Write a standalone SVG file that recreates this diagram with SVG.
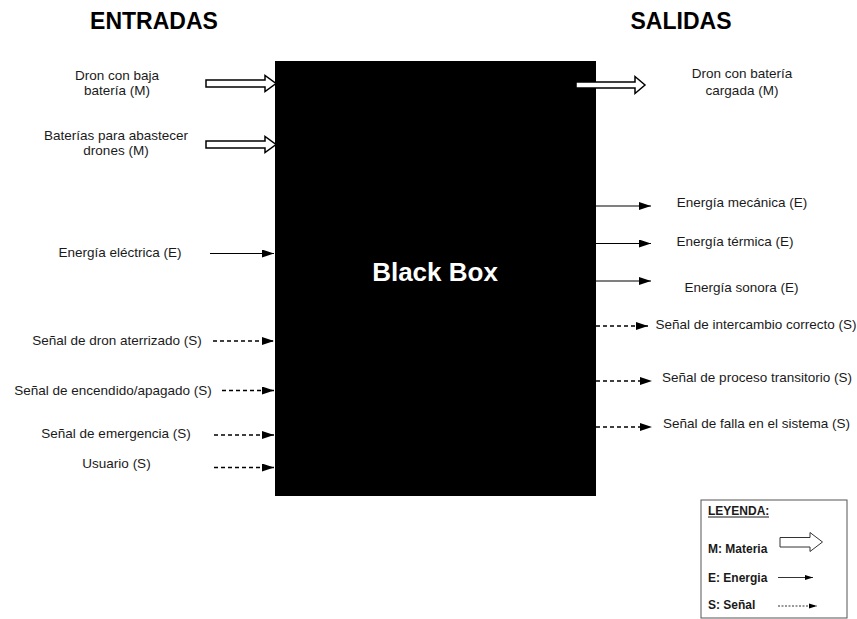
<svg xmlns="http://www.w3.org/2000/svg" width="857" height="619" viewBox="0 0 857 619">
<style>
text{font-family:"Liberation Sans",Arial,sans-serif;fill:#1a1a1a}
.t{font-size:13.5px;text-anchor:middle}
.h{font-size:23px;font-weight:bold;text-anchor:middle;fill:#000}
.lg{font-size:12px;font-weight:bold}
.solid{stroke:#000;stroke-width:1.2;fill:none;marker-end:url(#ah)}
.dash{stroke:#000;stroke-width:1.4;fill:none;stroke-dasharray:4 3;marker-end:url(#ah)}
.hollow{fill:#fff;stroke:#000;stroke-width:1.5}
</style>
<defs>
<marker id="ah" markerUnits="userSpaceOnUse" markerWidth="13" markerHeight="9" refX="12" refY="4" orient="auto">
<path d="M0,0 L12,4 L0,8 Z" fill="#000"/>
</marker>
<marker id="ahs" markerUnits="userSpaceOnUse" markerWidth="9" markerHeight="7" refX="8" refY="3" orient="auto">
<path d="M0,0.5 L8,3 L0,5.5 Z" fill="#000"/>
</marker>
</defs>
<rect width="857" height="619" fill="#fff"/>

<text class="h" x="154" y="29">ENTRADAS</text>
<text class="h" x="681" y="29">SALIDAS</text>

<g id="blackbox">
<rect x="275" y="61" width="321" height="435" fill="#000"/>
<text x="435" y="281" style="font-size:26px;font-weight:bold;text-anchor:middle;fill:#fff">Black Box</text>
</g>

<g id="in-dron">
<text class="t" x="117" y="80">Dron con baja</text>
<text class="t" x="117" y="95">batería (M)</text>
</g>
<g id="in-baterias">
<text class="t" x="116" y="140">Baterías para abastecer</text>
<text class="t" x="116" y="155">drones (M)</text>
</g>
<g id="in-energia">
<text class="t" x="120" y="257">Energía eléctrica (E)</text>
</g>
<g id="in-aterrizado">
<text class="t" x="117" y="345">Señal de dron aterrizado (S)</text>
</g>
<g id="in-encendido">
<text class="t" x="113" y="395">Señal de encendido/apagado (S)</text>
</g>
<g id="in-emergencia">
<text class="t" x="116" y="438">Señal de emergencia (S)</text>
</g>
<g id="in-usuario">
<text class="t" x="116.5" y="468">Usuario (S)</text>
</g>

<g id="out-dron">
<text class="t" x="742" y="78">Dron con batería</text>
<text class="t" x="742" y="95">cargada (M)</text>
</g>
<g id="out-mecanica">
<text class="t" x="742" y="207">Energía mecánica (E)</text>
</g>
<g id="out-termica">
<text class="t" x="735" y="246">Energía térmica (E)</text>
</g>
<g id="out-sonora">
<text class="t" x="741.5" y="292">Energía sonora (E)</text>
</g>
<g id="out-intercambio">
<text class="t" x="756" y="329">Señal de intercambio correcto (S)</text>
</g>
<g id="out-transitorio">
<text class="t" x="757" y="382">Señal de proceso transitorio (S)</text>
</g>
<g id="out-falla">
<text class="t" x="756.5" y="428">Señal de falla en el sistema (S)</text>
</g>

<g id="connectors">
<path class="hollow" d="M206,80 H265 V75.5 L276,83.5 L265,91.5 V87 H206 Z"/>
<path class="hollow" d="M206,141 H265 V136.5 L276,144.5 L265,152.5 V148 H206 Z"/>
<path class="hollow" d="M576,82 H635 V76.5 L645,85 L635,93.5 V88 H576 Z"/>
<line class="solid" x1="210" y1="253.5" x2="274" y2="253.5"/>
<line class="dash" x1="213" y1="341" x2="274" y2="341"/>
<line class="dash" x1="222" y1="390.5" x2="274" y2="390.5"/>
<line class="dash" x1="214" y1="435" x2="274" y2="435"/>
<line class="dash" x1="214" y1="467.5" x2="274" y2="467.5"/>
<line class="solid" x1="596" y1="206" x2="651" y2="206"/>
<line class="solid" x1="596" y1="243.5" x2="651" y2="243.5"/>
<line class="solid" x1="596" y1="281" x2="651" y2="281"/>
<line class="dash" x1="596" y1="326" x2="648" y2="326"/>
<line class="dash" x1="596" y1="381" x2="652" y2="381"/>
<line class="dash" x1="596" y1="427" x2="652" y2="427"/>
</g>

<g id="legend">
<rect x="701" y="500" width="146" height="118" fill="#fff" stroke="#555" stroke-width="1"/>
<text class="lg" x="708" y="515">LEYENDA:</text>
<line x1="708" y1="517" x2="769" y2="517" stroke="#1a1a1a" stroke-width="1"/>
<text class="lg" x="708" y="553">M: Materia</text>
<text class="lg" x="708" y="582">E: Energia</text>
<text class="lg" x="708" y="609">S: Señal</text>
<path d="M780,537.5 H810 V532.5 L822.5,542 L810,551.5 V547 H780 Z" fill="#fff" stroke="#333" stroke-width="1"/>
<line x1="778" y1="577.5" x2="813" y2="577.5" stroke="#000" stroke-width="0.8" marker-end="url(#ahs)"/>
<line x1="778" y1="606" x2="817" y2="606" stroke="#000" stroke-width="0.8" stroke-dasharray="2 1.5" marker-end="url(#ahs)"/>
</g>
</svg>
